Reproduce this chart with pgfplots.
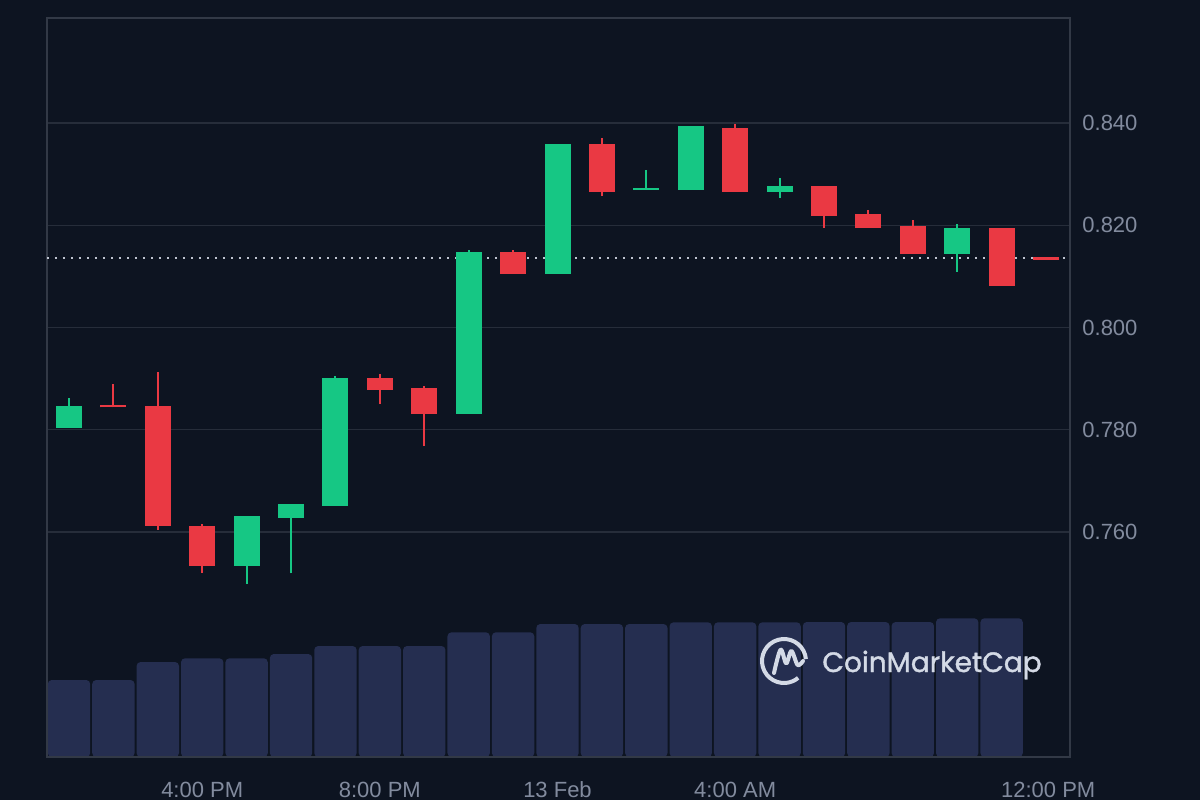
\documentclass[border=0pt]{standalone}
\usepackage{pgfplots}
\pgfplotsset{compat=1.18}
\usepackage{pgfplotstable}
\usepackage{fontspec}
\setmainfont{Liberation Sans}
\newfontfamily\logofont{Poppins}[FakeBold=1.3]
\definecolor{bgcol}{RGB}{13,20,33}
\definecolor{gridcol}{RGB}{38,45,58}
\definecolor{bordercol}{RGB}{50,57,70}
\definecolor{labelcol}{RGB}{130,139,158}
\definecolor{volcol}{RGB}{37,46,80}
\definecolor{upcol}{HTML}{16C784}
\definecolor{downcol}{HTML}{EA3943}
\definecolor{dotcol}{RGB}{190,196,208}
\definecolor{logocol}{RGB}{212,218,230}

\pgfplotstableread{
x o h l c
0 0.7804 0.7862 0.7804 0.7846
4 0.7534 0.7632 0.7498 0.7632
5 0.7628 0.7655 0.7519 0.7655
6 0.7651 0.7905 0.7651 0.7902
9 0.7831 0.8152 0.7831 0.8148
11 0.8105 0.8359 0.8105 0.8359
13 0.8269 0.8308 0.8269 0.8273
14 0.8269 0.8394 0.8269 0.8394
16 0.8266 0.8292 0.8254 0.8277
20 0.8144 0.8202 0.8109 0.8195
}\upcandles

\pgfplotstableread{
x o h l c
1 0.7848 0.7889 0.7844 0.7844
2 0.7847 0.7913 0.7604 0.7612
3 0.7612 0.7616 0.7520 0.7534
7 0.7902 0.7909 0.7850 0.7878
8 0.7882 0.7886 0.7768 0.7831
10 0.8148 0.8152 0.8105 0.8105
12 0.8359 0.8371 0.8257 0.8266
15 0.8390 0.8398 0.8266 0.8266
17 0.8277 0.8277 0.8195 0.8219
18 0.8222 0.8230 0.8195 0.8195
19 0.8199 0.8210 0.8144 0.8144
21 0.8195 0.8195 0.8082 0.8082
22 0.8137 0.8137 0.8133 0.8133
}\downcandles

\pgfplotstableread{
x v
0 82
1 82
2 100
3 103.7
4 103.7
5 108
6 116
7 116
8 116
9 129.7
10 129.7
11 138
12 138
13 138
14 139.7
15 139.7
16 139.7
17 140
18 140
19 140
20 143.7
21 143.7
}\volume

\begin{document}
\begin{tikzpicture}
\useasboundingbox (0,0) rectangle (600pt,400pt);
\fill[bgcol] (0,0) rectangle (600pt,400pt);

% volume bars
\begin{axis}[at={(23.5pt,21.5pt)}, anchor=south west, scale only axis,
  width=511.5pt, height=369.5pt,
  xmin=-0.495, xmax=22.54, ymin=5, ymax=744,
  hide axis, clip=true]
\addplot[ybar, bar width=21.2pt, fill=volcol, draw=none, rounded corners=2pt]
  table[x=x, y=v] {\volume};
\end{axis}

% price axis
\begin{axis}[at={(23.5pt,21.5pt)}, anchor=south west, scale only axis,
  width=511.5pt, height=369.5pt,
  xmin=-0.495, xmax=22.54, ymin=0.71599, ymax=0.86054,
  axis line style={draw=bordercol, line width=1pt},
  ymajorgrids, major grid style={draw=gridcol, line width=0.7pt},
  ytick={0.76,0.78,0.80,0.82,0.84},
  yticklabels={0.760,0.780,0.800,0.820,0.840},
  yticklabel pos=right,
  xtick={3,7,11,15,22.05},
  xticklabels={4:00 PM,8:00 PM,13 Feb,4:00 AM,12:00 PM},
  major tick length=0pt, tick style={draw=none},
  ticklabel style={font=\fontsize{11}{13}\selectfont, text=labelcol},
  yticklabel style={anchor=west, inner sep=0pt, xshift=6pt},
  xticklabel style={anchor=base, inner sep=0pt, yshift=-20pt},
  clip=true]

% last price dotted line
\addplot[dotcol, line width=1pt, dash pattern=on 1pt off 3pt, forget plot]
  coordinates {(-0.495,0.8135) (22.45,0.8135)};

% wicks
\addplot[draw=none, mark=none, forget plot,
  error bars/.cd, y dir=plus, y explicit, error mark=none,
  error bar style={line width=1pt, draw=upcol}]
  table[x=x, y=l, y error plus expr={\thisrow{h}-\thisrow{l}}] {\upcandles};
\addplot[draw=none, mark=none, forget plot,
  error bars/.cd, y dir=plus, y explicit, error mark=none,
  error bar style={line width=1pt, draw=downcol}]
  table[x=x, y=l, y error plus expr={\thisrow{h}-\thisrow{l}}] {\downcandles};

% bodies
\addplot[draw=none, mark=none, forget plot,
  error bars/.cd, y dir=plus, y explicit, error mark=none,
  error bar style={line width=13pt, draw=upcol}]
  table[x=x, y=o, y error plus expr={\thisrow{c}-\thisrow{o}}] {\upcandles};
\addplot[draw=none, mark=none, forget plot,
  error bars/.cd, y dir=plus, y explicit, error mark=none,
  error bar style={line width=13pt, draw=downcol}]
  table[x=x, y=c, y error plus expr={\thisrow{o}-\thisrow{c}}] {\downcandles};
\end{axis}

% watermark logo
\draw[logocol, line width=2pt] ([shift={(5:11pt)}]392pt,69.5pt)
  arc[start angle=5, end angle=310, radius=11pt];
\draw[logocol, line width=2pt, line cap=round, line join=round]
  plot[smooth, tension=0.55] coordinates {
  (387pt,63.5pt) (390.3pt,75.2pt) (393.1pt,68.3pt) (395.7pt,74.5pt) (398.8pt,67.5pt) (401.5pt,69.5pt)};
\node[anchor=base west, inner sep=0pt, text=logocol, font=\logofont\fontsize{14}{17}\selectfont]
  at (411pt,64pt) {CoinMarketCap};
\end{tikzpicture}
\end{document}
